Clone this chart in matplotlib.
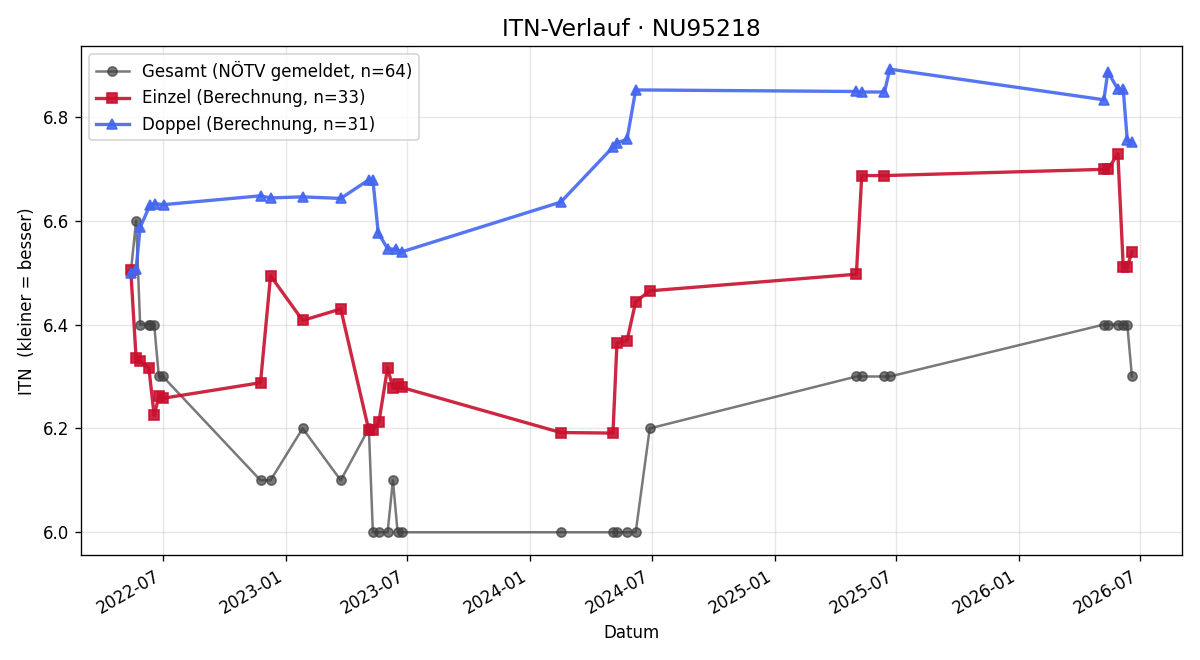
import numpy as np
import pandas as pd
import matplotlib
matplotlib.use("Agg")
import matplotlib.pyplot as plt
import matplotlib.dates as mdates

# Gesamt (NÖTV gemeldet)
gesamt_dates = ["2022-05-14", "2022-05-22", "2022-05-28", "2022-06-10", "2022-06-12",
                "2022-06-18", "2022-06-25", "2022-07-01", "2022-11-24", "2022-12-09",
                "2023-01-26", "2023-03-24", "2023-05-05", "2023-05-11", "2023-05-20",
                "2023-06-02", "2023-06-10", "2023-06-17", "2023-06-23", "2024-02-16",
                "2024-05-04", "2024-05-10", "2024-05-25", "2024-06-07", "2024-06-28",
                "2025-05-03", "2025-05-11", "2025-06-14", "2025-06-22", "2026-05-08",
                "2026-05-14", "2026-05-29", "2026-06-06", "2026-06-12", "2026-06-19"]
gesamt_itn = [6.5, 6.6, 6.4, 6.4, 6.4, 6.4, 6.3, 6.3, 6.1, 6.1,
              6.2, 6.1, 6.2, 6.0, 6.0, 6.0, 6.1, 6.0, 6.0, 6.0,
              6.0, 6.0, 6.0, 6.0, 6.2, 6.3, 6.3, 6.3, 6.3, 6.4,
              6.4, 6.4, 6.4, 6.4, 6.3]

# Einzel (Berechnung)
einzel_dates = ["2022-05-14", "2022-05-22", "2022-05-28", "2022-06-10", "2022-06-18",
                "2022-06-25", "2022-07-01", "2022-11-24", "2022-12-09", "2023-01-26",
                "2023-03-24", "2023-05-05", "2023-05-11", "2023-05-20", "2023-06-02",
                "2023-06-10", "2023-06-17", "2023-06-23", "2024-02-16", "2024-05-04",
                "2024-05-10", "2024-05-25", "2024-06-07", "2024-06-28", "2025-05-03",
                "2025-05-11", "2025-06-14", "2026-05-08", "2026-05-14", "2026-05-29",
                "2026-06-06", "2026-06-12", "2026-06-19"]
einzel_itn = [6.505, 6.335, 6.329, 6.317, 6.225, 6.262, 6.258, 6.288, 6.494, 6.408,
              6.430, 6.196, 6.197, 6.212, 6.317, 6.277, 6.285, 6.279, 6.192, 6.191,
              6.365, 6.369, 6.444, 6.465, 6.497, 6.687, 6.687, 6.699, 6.699, 6.729,
              6.511, 6.511, 6.540]

# Doppel (Berechnung)
doppel_dates = ["2022-05-14", "2022-05-22", "2022-05-28", "2022-06-12", "2022-06-19",
                "2022-07-02", "2022-11-24", "2022-12-09", "2023-01-26", "2023-03-24",
                "2023-05-05", "2023-05-11", "2023-05-19", "2023-06-02", "2023-06-15",
                "2023-06-23", "2024-02-16", "2024-05-04", "2024-05-10", "2024-05-25",
                "2024-06-07", "2025-05-03", "2025-05-11", "2025-06-14", "2025-06-22",
                "2026-05-08", "2026-05-14", "2026-05-29", "2026-06-06", "2026-06-12",
                "2026-06-19"]
doppel_itn = [6.500, 6.507, 6.587, 6.631, 6.633, 6.631, 6.648, 6.644, 6.646, 6.643,
              6.679, 6.679, 6.577, 6.546, 6.545, 6.540, 6.636, 6.742, 6.750, 6.757,
              6.852, 6.849, 6.848, 6.848, 6.892, 6.833, 6.887, 6.853, 6.853, 6.755,
              6.752]

fig, ax = plt.subplots(figsize=(10, 5.5), dpi=120)

ax.plot(pd.to_datetime(gesamt_dates), gesamt_itn, marker="o", markersize=5.5,
        linewidth=1.5, color="#404040", alpha=0.7,
        label="Gesamt (NÖTV gemeldet, n=64)")
ax.plot(pd.to_datetime(einzel_dates), einzel_itn, marker="s", markersize=6,
        linewidth=2, color="#c8102e", alpha=0.9,
        label="Einzel (Berechnung, n=33)")
ax.plot(pd.to_datetime(doppel_dates), doppel_itn, marker="^", markersize=6,
        linewidth=2, color="#4466f0", alpha=0.9,
        label="Doppel (Berechnung, n=31)")

ax.set_title("ITN-Verlauf · NU95218", fontsize=14)
ax.set_xlabel("Datum")
ax.set_ylabel("ITN  (kleiner = besser)")
ax.grid(True, alpha=0.3)
ax.legend(loc="upper left")

ax.xaxis.set_major_locator(mdates.MonthLocator(bymonth=(1, 7)))
ax.xaxis.set_major_formatter(mdates.DateFormatter("%Y-%m"))
fig.autofmt_xdate()

fig.tight_layout()
fig.savefig("out.png", dpi=120)
